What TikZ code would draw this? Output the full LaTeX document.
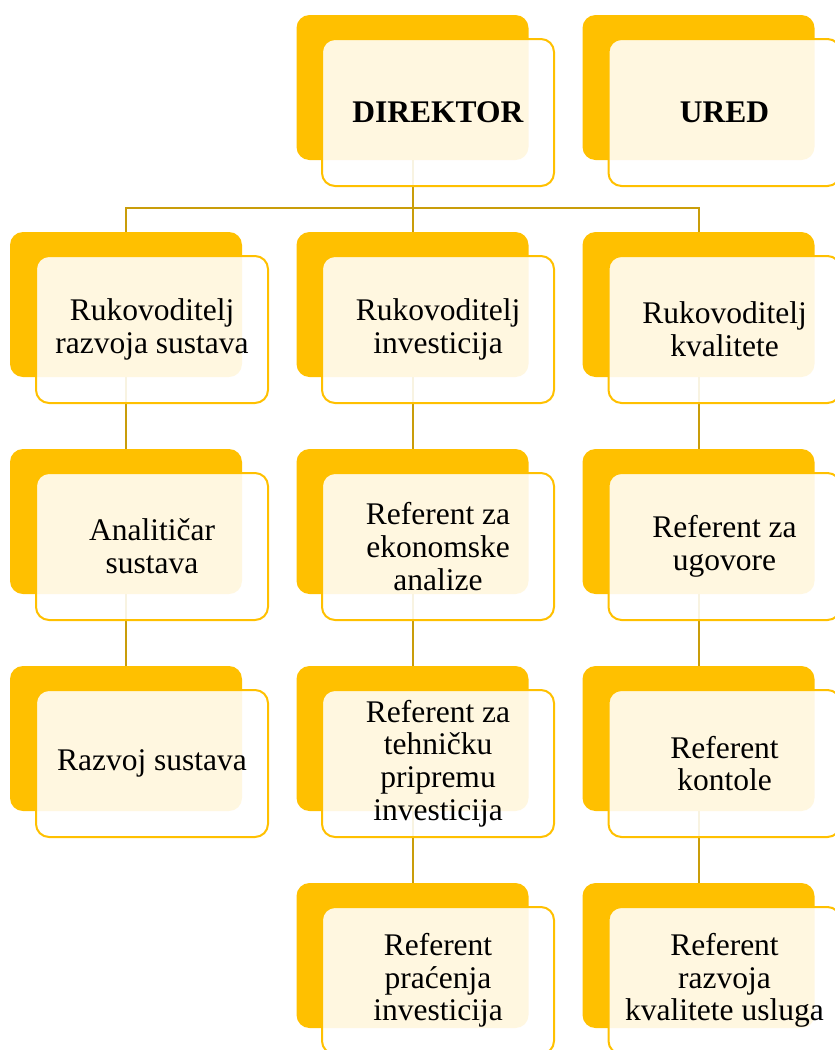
\documentclass[tikz,border=0pt]{standalone}
\usepackage{fontspec}
\setmainfont{Liberation Serif}
\usetikzlibrary{
    positioning % For relative placement
}
\definecolor{gold}{RGB}{255,192,0}
\definecolor{linkgold}{RGB}{201,157,10}

\begin{document}
\begin{tikzpicture}[
    x=1pt, y=-1pt, % one unit is one pixel, y grows downwards
    back/.style={fill=gold, rounded corners=13pt, minimum width=232pt,
        minimum height=145pt, inner sep=0pt}, % Solid card behind
    front/.style={draw=gold, line width=2pt, fill=white, fill opacity=0.88,
        text opacity=1, rounded corners=13pt, minimum width=232pt,
        minimum height=147pt, inner sep=0pt, align=center,
        font=\fontsize{31.5}{32.7}\selectfont}, % Pale card with the text
    link/.style={linkgold, line width=2pt} % Connector lines
]

    % Page frame
    \clip (0,0) rectangle (835,1050);

    % Back cards
    \node[back] (dirB)  at (412.5, 87.5) {};
    \node[back] (uredB) at (698.5, 87.5) {};

    \node[back] (rrsB) at (126, 304.5) {};
    \node[back] (riB)  at (412.5, 304.5) {};
    \node[back] (rkB)  at (698.5, 304.5) {};

    \node[back] (anB)  at (126, 521.5) {};
    \node[back] (reaB) at (412.5, 521.5) {};
    \node[back] (rugB) at (698.5, 521.5) {};

    \node[back] (rsB)  at (126, 738.5) {};
    \node[back] (rtpB) at (412.5, 738.5) {};
    \node[back] (rkoB) at (698.5, 738.5) {};

    \node[back] (rpiB) at (412.5, 955.5) {};
    \node[back] (rrkB) at (698.5, 955.5) {};

    % Connectors (drawn under the pale cards)
    \coordinate (bus) at (412.5, 208);
    \draw[link] (dirB.south) -- (bus);
    \draw[link] (bus) -| (rrsB.north);
    \draw[link] (bus) -- (riB.north);
    \draw[link] (bus) -| (rkB.north);

    \draw[link] (rrsB.south) -- (anB.north);
    \draw[link] (anB.south) -- (rsB.north);

    \draw[link] (riB.south) -- (reaB.north);
    \draw[link] (reaB.south) -- (rtpB.north);
    \draw[link] (rtpB.south) -- (rpiB.north);

    \draw[link] (rkB.south) -- (rugB.north);
    \draw[link] (rugB.south) -- (rkoB.north);
    \draw[link] (rkoB.south) -- (rrkB.north);

    % Front cards with their texts
    \node[front] (dir)  at (438, 112.5) {\textbf{DIREKTOR}};
    \node[front] (ured) at (724.5, 112.5) {\textbf{URED}};

    \node[front] (rrs) at (152, 329.5) {Rukovoditelj\\razvoja sustava};
    \node[front] (ri)  at (438, 329.5) {Rukovoditelj\\investicija};
    \node[front] (rk)  at (724.5, 329.5) {Rukovoditelj\\kvalitete};

    \node[front] (an)  at (152, 546.5) {Analitičar\\sustava};
    \node[front] (rea) at (438, 546.5) {Referent za\\ekonomske\\analize};
    \node[front] (rug) at (724.5, 546.5) {Referent za\\ugovore};

    \node[front] (rs)  at (152, 763.5) {Razvoj sustava};
    \node[front] (rtp) at (438, 763.5) {Referent za\\tehničku\\pripremu\\investicija};
    \node[front] (rko) at (724.5, 763.5) {Referent\\kontole};

    \node[front] (rpi) at (438, 980.5) {Referent\\praćenja\\investicija};
    \node[front] (rrk) at (724.5, 980.5) {Referent\\razvoja\\kvalitete usluga};

\end{tikzpicture}
\end{document}
